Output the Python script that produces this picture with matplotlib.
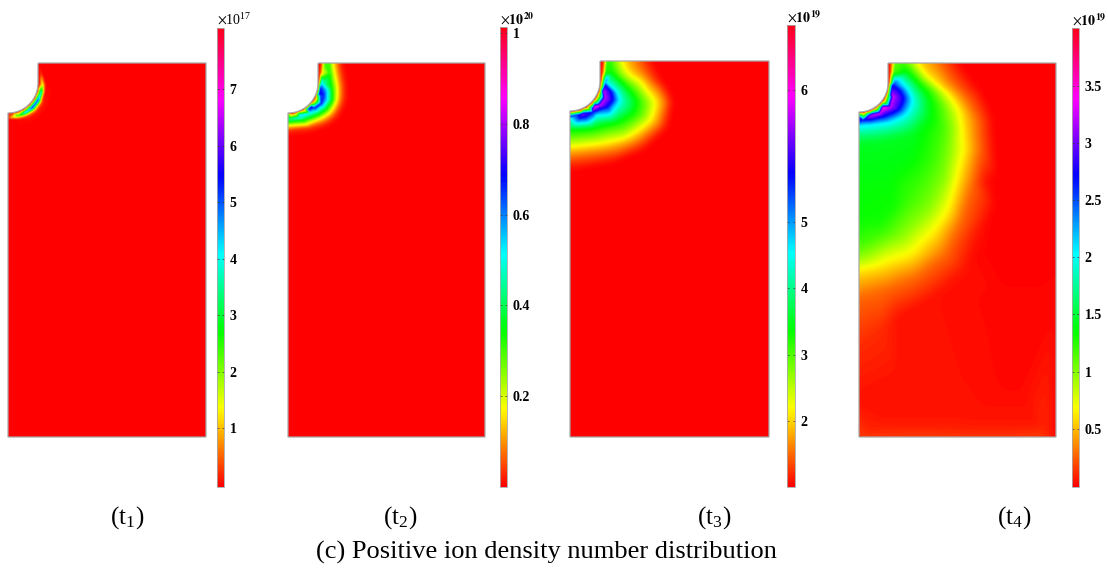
import numpy as np
import matplotlib
matplotlib.use('Agg')
import matplotlib.pyplot as plt
import matplotlib.tri as mtri
from matplotlib.cm import ScalarMappable
from matplotlib.colors import Normalize
from matplotlib.path import Path
from matplotlib.patches import PathPatch

W, H = 1108, 572
plt.rcParams['font.family'] = ['Liberation Serif', 'DejaVu Serif']
plt.rcParams['mathtext.fontset'] = 'stix'

# panel boxes in picture pixels: left, right, top, bottom, notch radius, straight wall
boxes = [(8, 206, 63, 437, 30, 20), (288, 485, 63, 437, 30, 20),
         (570, 769, 61, 437, 30, 20), (859, 1056, 63, 437, 29, 20)]

# near wall profile: hue value at offset d from the arc, one row per angle
t1_d = [0, 1, 1.7, 2.5, 3.5, 4.5, 5.5, 6.5, 8.5, 11]
t1_angles = [-15, 0, 15, 30, 45, 60, 75, 90]
t1_rows = [[0, 0, 0, .01, .03, .03, .02, 0, 0, 0],
           [0, 0, .03, .08, .15, .15, .1, .03, 0, 0],
           [0, .02, .12, .3, .5, .5, .3, .12, 0, 0],
           [0, .03, .15, .35, .6, .68, .5, .3, .06, 0],
           [0, .03, .15, .4, .65, .7, .5, .3, .08, 0],
           [0, .03, .15, .35, .55, .55, .33, .15, .03, 0],
           [0, .03, .15, .3, .33, .28, .15, .05, 0, 0],
           [0, .02, .06, .08, .08, .05, .02, 0, 0, 0]]

wall_d = [0, 1.5, 3, 4.5, 6]
wall_angles = [0, 20, 45, 70, 90]
t2_rows = [[0, .33, .5, .5, .45], [0, .5, .7, .67, .58], [0, .45, .68, .68, .6],
           [0, .33, .5, .55, .5], [0, .33, .42, .45, .42]]
t3_rows = [[0, .1, .33, .5, .6], [0, .1, .33, .6, .8], [0, .1, .4, .75, .85],
           [0, .1, .4, .7, .75], [0, .1, .4, .6, .66]]
t4_rows = [[0, .1, .33, .5, .62], [0, .15, .4, .7, .8], [0, .15, .45, .8, .85],
           [0, .15, .4, .75, .8], [0, .15, .4, .62, .7]]

# iso lines of the field: hue value -> points
t1_lines = {}
t2_lines = {
    0.0: [(340, 63), (342, 73), (344, 90), (344, 100), (337, 115), (325, 124), (310, 128), (288, 131)],
    0.15: [(333, 63), (335, 73), (338, 88), (337, 100), (330, 113), (320, 119), (310, 123), (288, 126),
           (323, 63), (322, 72)],
    0.33: [(330, 63), (330, 73), (332, 88), (333, 100), (326, 110), (318, 115), (310, 118), (288, 122),
           (325, 63), (324, 77)],
    0.03: [(321, 63), (320, 72)],
    0.5: [(322, 80), (328, 90), (328, 100), (320, 108), (310, 113), (300, 117)],
    0.67: [(320, 88), (323, 95), (321, 103), (314, 108), (308, 109)],
    0.42: [(288, 119)],
}
t3_lines = {
    0.0: [(652, 61), (663, 83), (672, 100), (667, 127), (643, 150), (610, 163), (570, 170)],
    0.07: [(638, 61), (645, 73), (660, 88), (667, 102), (660, 125), (637, 143), (603, 153), (570, 157)],
    0.15: [(623, 61), (628, 72), (647, 88), (658, 102), (653, 120), (630, 137), (600, 145), (570, 148),
           (605, 61), (604, 72)],
    0.25: [(615, 61), (620, 73), (638, 88), (648, 102), (645, 116), (625, 131), (597, 137), (570, 140)],
    0.33: [(610, 61), (613, 73), (628, 87), (638, 100), (635, 113), (617, 123), (593, 128), (570, 130),
           (607, 61), (606, 72)],
    0.03: [(603, 61), (602, 72)],
    0.5: [(607, 82), (617, 92), (620, 100), (613, 108), (597, 115), (570, 118)],
    0.67: [(605, 85), (612, 92), (614, 100), (608, 107), (593, 112), (580, 114), (570, 115)],
    0.82: [(603, 92), (605, 98), (600, 105), (593, 109)],
}
t4_lines = {
    0.0: [(960, 63), (983, 93), (993, 117), (997, 177), (997, 205), (992, 240),
          (1056, 63), (1056, 180)],
    0.012: [(985, 180), (980, 230), (965, 270), (935, 296), (900, 316),
            (900, 380), (960, 380), (859, 400)],
    0.005: [(1056, 300), (1005, 300), (1020, 380), (1056, 437)],
    0.03: [(859, 345), (880, 330)],
    0.07: [(940, 63), (950, 80), (968, 100), (978, 120), (980, 150), (972, 185), (960, 225),
           (945, 255), (915, 278), (885, 290), (859, 298)],
    0.15: [(918, 63), (925, 73), (940, 87), (953, 97), (962, 112), (965, 133), (960, 177),
           (950, 213), (937, 233), (913, 257), (883, 267), (859, 272), (893, 63), (892, 72)],
    0.25: [(910, 63), (920, 75), (937, 90), (947, 107), (952, 127), (950, 150), (945, 177),
           (930, 207), (900, 237), (859, 257)],
    0.3: [(903, 63), (915, 75), (932, 90), (940, 107), (942, 127), (935, 157), (925, 177),
          (907, 203), (883, 233), (859, 243), (895, 63), (894, 72)],
    0.33: [(859, 223), (880, 222), (895, 205)],
    0.345: [(859, 180), (890, 175), (910, 160)],
    0.36: [(907, 73), (920, 87), (928, 100), (927, 117), (913, 133), (883, 140), (859, 142)],
    0.5: [(893, 82), (907, 88), (913, 100), (907, 113), (890, 122), (870, 125), (859, 126)],
    0.67: [(892, 85), (900, 90), (905, 98), (900, 110), (883, 117), (863, 120), (859, 121)],
    0.82: [(893, 97), (890, 107), (880, 113)],
    0.03001: [(890, 63), (890, 72)],
    # faint streaks along the bottom edge
    0.016: [(880, 424), (960, 424), (1040, 424)],
    0.028: [(875, 428), (960, 428), (1045, 428)],
    0.018: [(870, 431), (960, 431), (1048, 431)],
    0.034: [(865, 434), (960, 434), (1050, 434)],
    0.04: [(859, 437), (960, 437), (1040, 437)],
}

# colour bars: left, right, top, bottom, axis range, tick positions, tick labels, power
bar_boxes = [(217, 224, 28, 487), (500, 507, 27, 487), (787, 795, 25, 487), (1072, 1079, 28, 487)]
bar_range = [(-0.04, 8.08), (0.0, 1.013), (1.0, 7.98), (-0.01, 4.007)]
bar_ticks = [[1, 2, 3, 4, 5, 6, 7], [0.2, 0.4, 0.6, 0.8, 1.0], [2, 3, 4, 5, 7],
             [0.5, 1, 1.5, 2, 2.5, 3, 3.5]]
bar_labels = [['1', '2', '3', '4', '5', '6', '7'], ['0.2', '0.4', '0.6', '0.8', '1'],
              ['2', '3', '4', '5', '6'], ['0.5', '1', '1.5', '2', '2.5', '3', '3.5']]
bar_titles = [r'$\times\mathregular{10^{17}}$', r'$\times\mathbf{10^{20}}$',
              r'$\times\mathbf{10^{19}}$', r'$\times\mathbf{10^{19}}$']
captions = ['1', '2', '3', '4']
caption_x = [127, 400, 714, 1014]


def wall_points(box, d_list, angles, rows):
    left, right, top, bottom, r, straight = box
    cx, cy = left, top + straight
    xs, ys, zs = [], [], []
    for a, row in zip(angles, rows):
        for d, z in zip(d_list, row):
            t = np.radians(a)
            xs.append(cx + (r + d) * np.cos(t))
            ys.append(cy + (r + d) * np.sin(t))
            zs.append(z)
    return xs, ys, zs


def blur(z, sigma):
    n = int(3 * sigma) + 1
    k = np.exp(-0.5 * (np.arange(-n, n + 1) / sigma) ** 2)
    k = k / k.sum()
    p = np.pad(z, n, mode='edge')
    p = np.apply_along_axis(lambda m: np.convolve(m, k, mode='same'), 0, p)
    p = np.apply_along_axis(lambda m: np.convolve(m, k, mode='same'), 1, p)
    return p[n:-n, n:-n]


def draw_panel(ax, box, d_list, angles, rows, lines):
    left, right, top, bottom, r, straight = box
    xs, ys, zs = wall_points(box, d_list, angles, rows)
    for z, pts in lines.items():
        for x, y in pts:
            xs.append(x)
            ys.append(y)
            zs.append(z)
    # corners and the wall itself so the triangles cover the whole box
    t = np.radians(np.linspace(0, 90, 25))
    arc_x = left + r * np.cos(t)
    arc_y = top + straight + r * np.sin(t)
    corners = [(left, bottom), (right, bottom), (right, top), (left + r, top), (left, top + straight + r), (left, top)]
    for x, y in corners + list(zip(arc_x, arc_y)):
        if (x, y) in zip(xs, ys):
            continue
        xs.append(x)
        ys.append(y)
        zs.append(0.0)
    tri = mtri.Triangulation(xs, ys)
    interp = mtri.LinearTriInterpolator(tri, zs)
    gx = np.arange(left, right + 0.5, 0.5)
    gy = np.arange(top, bottom + 0.5, 0.5)
    X, Y = np.meshgrid(gx, gy)
    field = np.ma.filled(interp(X, Y), 0.0)
    # sharp next to the wall, soft further out where the samples are sparse
    dist = np.hypot(X - left, Y - top - straight) - r
    w = np.clip((dist - 8) / 16, 0, 1)
    field = (1 - w) * blur(field, 1.0) + w * blur(field, 8.0)
    im = ax.imshow(field, extent=[left, right, bottom, top], cmap='hsv', vmin=0, vmax=1,
                   aspect='auto', interpolation='bilinear')
    outline_x = [left + r, right, right, left] + list(arc_x[::-1]) + [left + r]
    outline_y = [top, top, bottom, bottom] + list(arc_y[::-1]) + [top]
    patch = PathPatch(Path(np.column_stack([outline_x, outline_y]), closed=False),
                      facecolor='none', edgecolor='#a8a8a8', lw=0.9, zorder=5)
    ax.add_patch(patch)
    im.set_clip_path(patch)


def draw_bar(fig, box, rng, ticks, labels, title):
    left, right, top, bottom = box
    cax = fig.add_axes([left / W, 1 - bottom / H, (right - left) / W, (bottom - top) / H])
    sm = ScalarMappable(norm=Normalize(rng[0], rng[1]), cmap='hsv')
    cb = fig.colorbar(sm, cax=cax, ticks=ticks)
    cb.ax.set_yticklabels(labels, fontweight='bold', fontsize=10)
    cb.ax.tick_params(length=1.5, width=0.5, direction='in', pad=4, color='#333333', left=True)
    cb.outline.set_edgecolor('#a8a8a8')
    cb.outline.set_linewidth(0.6)
    fig.text(left / W, 1 - (top - 8) / H, title, fontsize=10, va='center', ha='left')


def main():
    fig = plt.figure(figsize=(W / 100, H / 100), dpi=100)
    ax = fig.add_axes([0, 0, 1, 1])

    draw_panel(ax, boxes[0], t1_d, t1_angles, t1_rows, t1_lines)
    draw_panel(ax, boxes[1], wall_d, wall_angles, t2_rows, t2_lines)
    draw_panel(ax, boxes[2], wall_d, wall_angles, t3_rows, t3_lines)
    draw_panel(ax, boxes[3], wall_d, wall_angles, t4_rows, t4_lines)
    ax.set_xlim(0, W)
    ax.set_ylim(H, 0)
    ax.axis('off')

    for i in range(4):
        draw_bar(fig, bar_boxes[i], bar_range[i], bar_ticks[i], bar_labels[i], bar_titles[i])
        ax.text(caption_x[i], 518, '(t$_{\\mathregular{%s}}$)' % captions[i], fontsize=18,
                ha='center', va='center')
    ax.text(546, 552, '(c) Positive ion density number distribution', fontsize=19,
            ha='center', va='center')

    plt.savefig('out.png', dpi=100)


if __name__ == '__main__':
    main()
